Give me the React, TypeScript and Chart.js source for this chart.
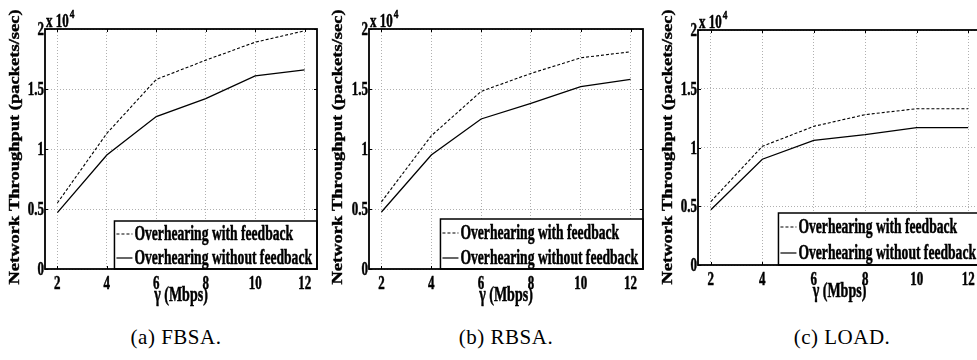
import { useEffect, useRef } from 'react';
import { Chart, registerables } from 'chart.js';

Chart.register(...registerables);

// ---------- data ----------
const xValues = [2, 4, 6, 8, 10, 12];
const xTicks = [2, 4, 6, 8, 10, 12];
const yTicks = [0, 5000, 10000, 15000, 20000];
const yTickLabels = ['0', '0.5', '1', '1.5', '2'];

const fbsaWith = [5500, 11300, 15800, 17400, 18900, 19850];
const fbsaWithout = [4700, 9500, 12700, 14200, 16100, 16600];
const rbsaWith = [5600, 11100, 14800, 16300, 17600, 18100];
const rbsaWithout = [4750, 9500, 12500, 13800, 15200, 15800];
const loadWith = [5400, 10100, 11800, 12800, 13300, 13300];
const loadWithout = [4700, 9000, 10600, 11100, 11700, 11700];

const seriesNames = ['Overhearing with feedback', 'Overhearing without feedback'];
const captions = ['(a) FBSA.', '(b) RBSA.', '(c) LOAD.'];
const yTitle = 'Network Throughput (packets/sec)';
const xTitle = 'γ (Mbps)';
const expLabel = 'x 10';
const expPower = '4';

// ---------- layout ----------
const SERIF = '"Liberation Serif", "Times New Roman", serif';

type PanelCfg = {
  left: number; w: number; h: number;
  top: number; right: number; yAxisWidth: number; xAxisHeight: number;
  yLabelX: number; withData: number[]; withoutData: number[];
  legendTop: number; captionCenter: number;
};

const panels: PanelCfg[] = [
  { left: 0, w: 330, h: 310, top: 29, right: 13, yAxisWidth: 45, xAxisHeight: 41, yLabelX: 15,
    withData: fbsaWith, withoutData: fbsaWithout, legendTop: 221, captionCenter: 176 },
  { left: 325, w: 330, h: 310, top: 29, right: 12, yAxisWidth: 44, xAxisHeight: 41, yLabelX: 13,
    withData: rbsaWith, withoutData: rbsaWithout, legendTop: 219, captionCenter: 506 },
  { left: 650, w: 340, h: 310, top: 30, right: 9, yAxisWidth: 48, xAxisHeight: 45, yLabelX: 18,
    withData: loadWith, withoutData: loadWithout, legendTop: 213, captionCenter: 842 },
];

function drawText(
  ctx: CanvasRenderingContext2D, text: string, x: number, y: number, size: number, squeeze: number,
  o: { align?: CanvasTextAlign; baseline?: CanvasTextBaseline; rotate?: boolean } = {}
) {
  ctx.save();
  ctx.translate(x, y);
  ctx.scale(squeeze, 1);
  if (o.rotate) ctx.rotate(-Math.PI / 2);
  ctx.font = `bold ${size}px ${SERIF}`;
  ctx.textAlign = o.align || 'left';
  ctx.textBaseline = o.baseline || 'alphabetic';
  ctx.fillStyle = '#000';
  ctx.strokeStyle = '#000';
  ctx.lineWidth = 0.5;
  ctx.fillText(text, 0, 0);
  ctx.strokeText(text, 0, 0);
  ctx.restore();
}

function textWidth(ctx: CanvasRenderingContext2D, text: string, size: number, squeeze: number) {
  ctx.save();
  ctx.font = `bold ${size}px ${SERIF}`;
  const w = ctx.measureText(text).width * squeeze;
  ctx.restore();
  return w;
}

function makeDecor(p: PanelCfg) {
  return {
    id: 'matlabDecor',
    afterDraw(chart: any) {
      const ctx: CanvasRenderingContext2D = chart.ctx;
      const a = chart.chartArea;
      const xs = chart.scales.x;
      const ys = chart.scales.y;

      // tick marks (inward)
      ctx.save();
      ctx.strokeStyle = '#000';
      ctx.lineWidth = 1;
      ctx.beginPath();
      xs.ticks.forEach((t: any) => {
        const px = Math.round(xs.getPixelForValue(t.value)) + 0.5;
        ctx.moveTo(px, a.bottom); ctx.lineTo(px, a.bottom - 3);
        ctx.moveTo(px, a.top); ctx.lineTo(px, a.top + 3);
      });
      ys.ticks.forEach((t: any) => {
        const py = Math.round(ys.getPixelForValue(t.value)) + 0.5;
        ctx.moveTo(a.left, py); ctx.lineTo(a.left + 3, py);
        ctx.moveTo(a.right, py); ctx.lineTo(a.right - 3, py);
      });
      ctx.stroke();
      ctx.restore();

      // legend box
      const fs = 20;
      const sq = 0.68;
      const tw = Math.max(...seriesNames.map((s) => textWidth(ctx, s, fs, sq)));
      const boxW = 21 + tw + 4;
      const boxL = a.right - boxW;
      const boxT = p.legendTop;
      const boxB = a.bottom;
      ctx.save();
      ctx.fillStyle = '#fff';
      ctx.fillRect(boxL, boxT, boxW, boxB - boxT);
      ctx.strokeStyle = '#000';
      ctx.lineWidth = 1.5;
      ctx.strokeRect(boxL, boxT, boxW, boxB - boxT);
      const rowH = (boxB - boxT) / 2;
      seriesNames.forEach((name, i) => {
        const cy = boxT + rowH * (i + 0.5) + 1;
        ctx.beginPath();
        ctx.lineWidth = 1.2;
        ctx.setLineDash(i === 0 ? [3, 2] : []);
        ctx.moveTo(boxL + 2, Math.round(cy));
        ctx.lineTo(boxL + 18, Math.round(cy));
        ctx.stroke();
        ctx.setLineDash([]);
        drawText(ctx, name, boxL + 20, cy + 6, fs, sq);
      });
      ctx.restore();

      // frame
      ctx.save();
      ctx.strokeStyle = '#000';
      ctx.lineWidth = 1.8;
      ctx.strokeRect(a.left, a.top, a.right - a.left, a.bottom - a.top);
      ctx.restore();

      // tick labels
      xs.ticks.forEach((t: any) => {
        drawText(ctx, String(t.value), xs.getPixelForValue(t.value), a.bottom + 20, 18, 0.72, { align: 'center' });
      });
      ys.ticks.forEach((t: any) => {
        const idx = yTicks.indexOf(t.value);
        drawText(ctx, yTickLabels[idx], a.left - 1, ys.getPixelForValue(t.value) + 6, 18, 0.72, { align: 'right' });
      });

      // exponent
      drawText(ctx, expLabel, a.left + 1, a.top - 2, 18, 0.72);
      const ew = textWidth(ctx, expLabel, 18, 0.72);
      drawText(ctx, expPower, a.left + 2 + ew, a.top - 11, 13, 0.72);

      // axis titles
      drawText(ctx, xTitle, (a.left + a.right) / 2, a.bottom + 32, 20, 0.7, { align: 'center' });
      drawText(ctx, yTitle, p.yLabelX, 147, 18.5, 0.8, { align: 'center', baseline: 'middle', rotate: true });
    },
  };
}

function Panel({ p }: { p: PanelCfg }) {
  const ref = useRef<HTMLCanvasElement>(null);
  useEffect(() => {
    const canvas = ref.current;
    if (!canvas) return;
    const chart = new Chart(canvas, {
      type: 'line',
      data: {
        datasets: [
          {
            label: seriesNames[0],
            data: xValues.map((x, i) => ({ x, y: p.withData[i] })),
            borderColor: '#000', borderWidth: 1.1, borderDash: [3, 2],
            pointRadius: 0, tension: 0, fill: false,
          },
          {
            label: seriesNames[1],
            data: xValues.map((x, i) => ({ x, y: p.withoutData[i] })),
            borderColor: '#000', borderWidth: 1.3,
            pointRadius: 0, tension: 0, fill: false,
          },
        ],
      },
      options: {
        animation: false,
        responsive: false,
        maintainAspectRatio: false,
        devicePixelRatio: 1,
        events: [],
        layout: { padding: { left: 0, top: p.top, right: p.right, bottom: 0 } },
        plugins: { legend: { display: false }, tooltip: { enabled: false } },
        scales: {
          x: {
            type: 'linear', min: 1.5, max: 12.5,
            afterBuildTicks: (s: any) => { s.ticks = xTicks.map((v) => ({ value: v })); },
            afterFit: (s: any) => { s.height = p.xAxisHeight; },
            ticks: { display: false },
            grid: { color: '#b0b0b0', lineWidth: 1, drawTicks: false },
            border: { display: false, dash: [1, 2] },
          },
          y: {
            type: 'linear', min: 0, max: 20000,
            afterBuildTicks: (s: any) => { s.ticks = yTicks.map((v) => ({ value: v })); },
            afterFit: (s: any) => { s.width = p.yAxisWidth; },
            ticks: { display: false },
            grid: { color: '#b0b0b0', lineWidth: 1, drawTicks: false },
            border: { display: false, dash: [1, 2] },
          },
        },
      } as any,
      plugins: [makeDecor(p)],
    });
    return () => chart.destroy();
  }, [p]);
  return (
    <canvas
      ref={ref}
      width={p.w}
      height={p.h}
      style={{ position: 'absolute', left: p.left, top: 0, width: p.w, height: p.h }}
    />
  );
}

export default function App() {
  return (
    <div
      style={{
        position: 'absolute', left: 0, top: 0, width: 977, height: 360,
        overflow: 'hidden', background: '#fff',
      }}
    >
      {panels.map((p, i) => (
        <Panel key={i} p={p} />
      ))}
      {panels.map((p, i) => (
        <div
          key={'c' + i}
          style={{
            position: 'absolute', left: p.captionCenter - 100, top: 326, width: 200,
            textAlign: 'center', fontFamily: SERIF, fontSize: 21, lineHeight: '22px',
            letterSpacing: '0.5px', color: '#000',
          }}
        >
          {captions[i]}
        </div>
      ))}
    </div>
  );
}
